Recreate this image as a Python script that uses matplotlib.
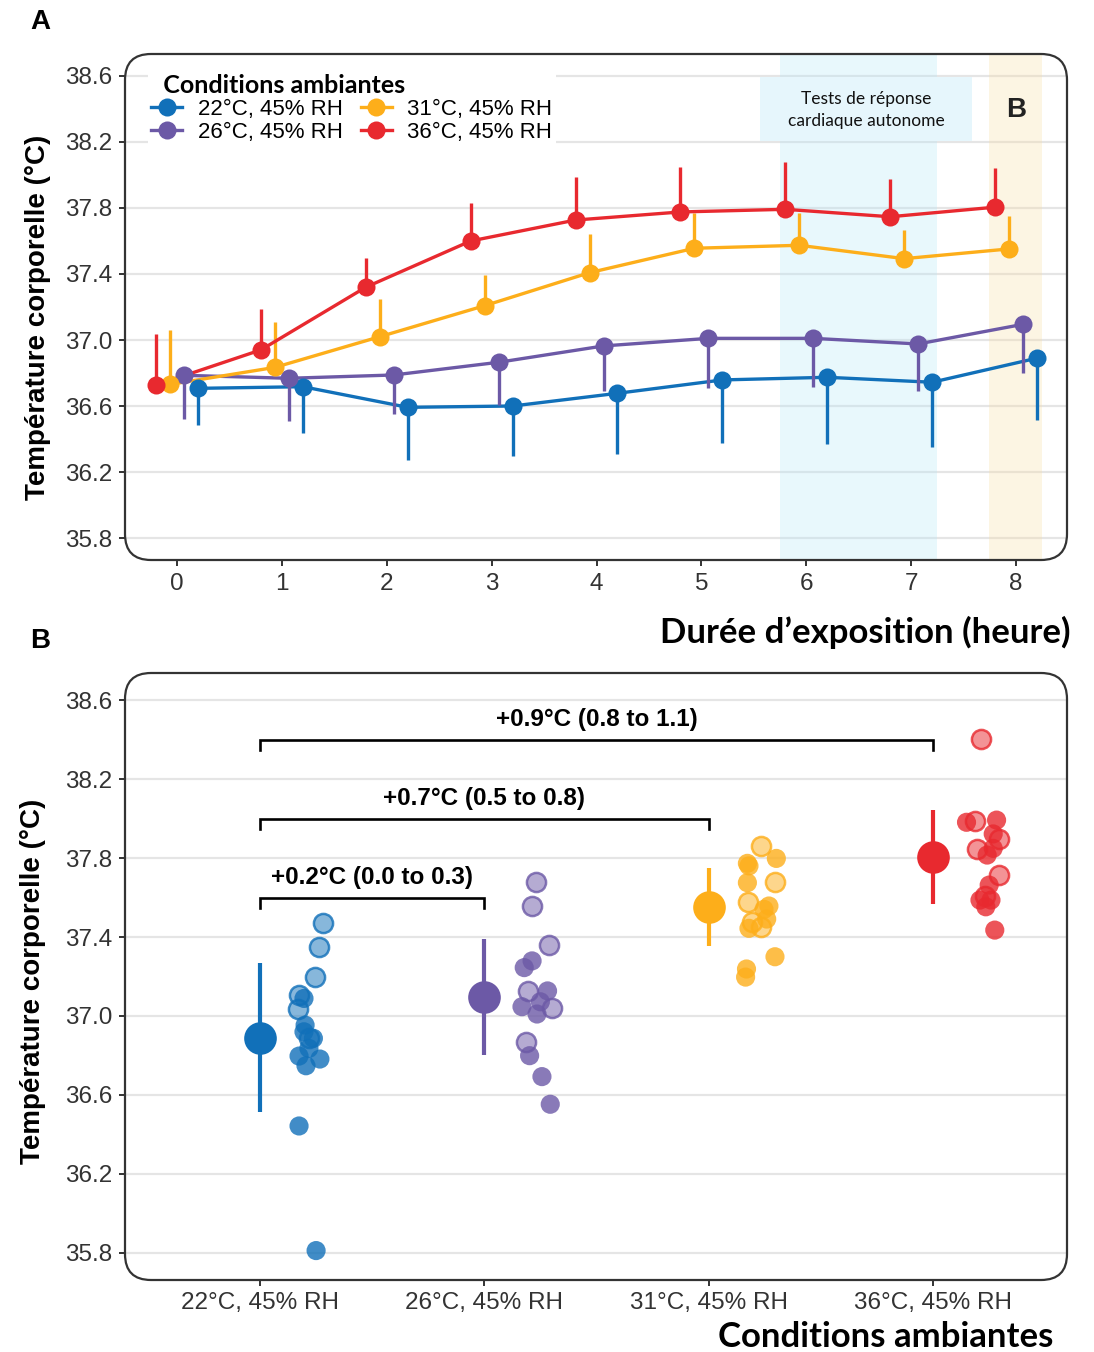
import matplotlib
matplotlib.use("Agg")
import matplotlib.pyplot as plt
import numpy as np
from matplotlib.patches import FancyBboxPatch, Rectangle
from matplotlib.lines import Line2D
from matplotlib.transforms import IdentityTransform

plt.rcParams['font.family'] = ['Liberation Sans', 'DejaVu Sans']
CAL = ['Lato', 'DejaVu Sans']

# ---------------- data ----------------
hours = [0, 1, 2, 3, 4, 5, 6, 7, 8]
conditions = ["22°C, 45% RH", "26°C, 45% RH", "31°C, 45% RH", "36°C, 45% RH"]
colors = ["#1170b9", "#6c59a6", "#fdae1a", "#e8292f"]

mean_22 = [36.707, 36.717, 36.592, 36.600, 36.677, 36.758, 36.774, 36.744, 36.890]
mean_26 = [36.786, 36.768, 36.788, 36.865, 36.964, 37.010, 37.010, 36.976, 37.095]
mean_31 = [36.731, 36.834, 37.020, 37.208, 37.408, 37.556, 37.574, 37.493, 37.552]
mean_36 = [36.727, 36.940, 37.320, 37.600, 37.727, 37.776, 37.792, 37.747, 37.805]

err_22 = [0.222, 0.283, 0.319, 0.303, 0.368, 0.384, 0.404, 0.390, 0.377]
err_26 = [0.266, 0.257, 0.238, 0.259, 0.271, 0.303, 0.293, 0.283, 0.295]
err_31 = [0.329, 0.276, 0.227, 0.186, 0.234, 0.212, 0.198, 0.174, 0.200]
err_36 = [0.309, 0.248, 0.177, 0.230, 0.263, 0.274, 0.288, 0.229, 0.238]

# individual participants at hour 8 (panel B)
pts_22 = [37.469, 37.348, 37.199, 37.106, 37.089, 37.035, 36.954, 36.920, 36.887, 36.887,
          36.836, 36.797, 36.782, 36.748, 36.443, 35.812]
jit_22 = [0.282, 0.262, 0.244, 0.175, 0.196, 0.171, 0.201, 0.196, 0.220, 0.238,
          0.218, 0.174, 0.267, 0.205, 0.174, 0.250]
ring_22 = [1, 1, 1, 1, 0, 1, 0, 0, 1, 0, 0, 0, 0, 0, 0, 0]

pts_26 = [37.677, 37.558, 37.360, 37.279, 37.245, 37.127, 37.127, 37.047, 37.039, 37.072,
          37.010, 36.867, 36.799, 36.693, 36.553]
jit_26 = [0.232, 0.211, 0.287, 0.213, 0.178, 0.195, 0.282, 0.168, 0.302, 0.250,
          0.235, 0.186, 0.202, 0.257, 0.294]
ring_26 = [1, 1, 1, 0, 0, 1, 0, 0, 1, 0, 0, 1, 0, 0, 0]

pts_31 = [37.862, 37.798, 37.773, 37.760, 37.675, 37.677, 37.579, 37.557, 37.540, 37.491,
          37.474, 37.444, 37.449, 37.300, 37.238, 37.197]
jit_31 = [0.233, 0.302, 0.173, 0.180, 0.173, 0.296, 0.177, 0.269, 0.247, 0.259,
          0.195, 0.180, 0.232, 0.296, 0.169, 0.165]
ring_31 = [1, 0, 0, 0, 0, 1, 1, 0, 0, 0, 1, 0, 1, 0, 0, 0]

pts_36 = [38.401, 37.981, 37.989, 37.992, 37.922, 37.896, 37.846, 37.815, 37.849, 37.714,
          37.663, 37.608, 37.587, 37.587, 37.553, 37.435]
jit_36 = [0.214, 0.150, 0.187, 0.284, 0.269, 0.296, 0.198, 0.242, 0.269, 0.296,
          0.251, 0.232, 0.210, 0.259, 0.236, 0.276]
ring_36 = [1, 0, 1, 0, 0, 1, 1, 0, 0, 1, 0, 1, 0, 0, 0, 0]

comparisons = [(1, 2, 37.60, "+0.2°C (0.0 to 0.3)"),
               (1, 3, 38.00, "+0.7°C (0.5 to 0.8)"),
               (1, 4, 38.40, "+0.9°C (0.8 to 1.1)")]

yticks = [35.8, 36.2, 36.6, 37.0, 37.4, 37.8, 38.2, 38.6]

means = [mean_22, mean_26, mean_31, mean_36]
errs = [err_22, err_26, err_31, err_36]
pts = [pts_22, pts_26, pts_31, pts_36]
jits = [jit_22, jit_26, jit_31, jit_36]
rings = [ring_22, ring_26, ring_31, ring_36]
err_side = ['lower', 'lower', 'upper', 'upper']
dodge = [0.2, 0.0667, -0.0667, -0.2]

W, H = 1094, 1352
fig = plt.figure(figsize=(W / 100, H / 100), dpi=100)


def px_axes(left, top, right, bottom):
    return fig.add_axes([left / W, 1 - bottom / H, (right - left) / W, (bottom - top) / H])


def style_axes(ax, left, top, right, bottom):
    for s in ax.spines.values():
        s.set_visible(False)
    ax.set_yticks(yticks)
    ax.set_yticklabels([f"{v:.1f}" for v in yticks])
    ax.yaxis.grid(True, color='#e5e5e5', lw=1.6, zorder=0)
    ax.xaxis.grid(False)
    ax.set_axisbelow(True)
    ax.tick_params(axis='both', length=4, width=1.4, color='#333333',
                   labelsize=17.5, labelcolor='#333333', pad=5)
    frame = FancyBboxPatch((left, H - bottom), right - left, bottom - top,
                           boxstyle="round,pad=0,rounding_size=26",
                           transform=IdentityTransform(), fill=False,
                           edgecolor='#333333', lw=1.6, zorder=10)
    fig.add_artist(frame)
    clip = FancyBboxPatch((left, H - bottom), right - left, bottom - top,
                          boxstyle="round,pad=0,rounding_size=26",
                          transform=IdentityTransform(), fill=False, visible=False)
    fig.add_artist(clip)
    for gl in ax.get_ygridlines():
        gl.set_clip_path(clip)


# ---------------- Panel A ----------------
axA = px_axes(125, 54, 1067, 560)
axA.set_xlim(-0.496, 8.486)
axA.set_ylim(35.6667, 38.7333)
style_axes(axA, 125, 54, 1067, 560)
axA.set_xticks(hours)

axA.add_patch(Rectangle((5.75, 35.0), 1.5, 5, facecolor='#b6e8f8', alpha=0.3,
                        edgecolor='none', zorder=1))
axA.add_patch(Rectangle((7.74, 35.0), 0.51, 5, facecolor='#f8dea5', alpha=0.3,
                        edgecolor='none', zorder=1))

for i in range(4):
    x = np.array(hours) + dodge[i]
    m = np.array(means[i])
    e = np.array(errs[i])
    axA.plot(x, m, color=colors[i], lw=2.4, zorder=3)
    if err_side[i] == 'upper':
        axA.vlines(x, m, m + e, color=colors[i], lw=2.4, zorder=3)
    else:
        axA.vlines(x, m - e, m, color=colors[i], lw=2.4, zorder=3)
for i in range(4):
    x = np.array(hours) + dodge[i]
    axA.plot(x, means[i], 'o', color=colors[i], ms=13, mec='none', zorder=4)

axA.add_patch(Rectangle((5.559, 38.206), 2.021, 0.388, facecolor='#e6f6fc',
                        edgecolor='none', zorder=5))
axA.text(6.57, 38.394, "Tests de réponse\ncardiaque autonome", ha='center', va='center',
         fontsize=12.5, family=CAL, color='#111111', linespacing=1.45, zorder=6)
axA.text(8.0, 38.394, "B", ha='center', va='center', fontsize=20, fontweight='bold',
         color='#222222', zorder=6)

handles = [Line2D([0], [0], color=c, lw=2.4, marker='o', ms=13, mec='none') for c in colors]
leg = axA.legend(handles, conditions, ncol=2, loc='upper left',
                 bbox_to_anchor=(0.0244, 0.9664), frameon=True, fancybox=False,
                 facecolor='white', edgecolor='none', framealpha=1,
                 fontsize=16, handlelength=1.4, handletextpad=0.7, columnspacing=0.8,
                 labelspacing=0.08, borderpad=0.15, borderaxespad=0,
                 title="  Conditions ambiantes", alignment='left',
                 title_fontproperties={'family': CAL, 'weight': 'bold', 'size': 18})
leg.set_zorder(7)

# ---------------- Panel B ----------------
axB = px_axes(125, 673, 1067, 1280)
axB.set_xlim(0.398, 4.598)
axB.set_ylim(35.663, 38.737)
style_axes(axB, 125, 673, 1067, 1280)
axB.set_xticks([1, 2, 3, 4])
axB.set_xticklabels(conditions)

for i in range(4):
    c = colors[i]
    xs = (i + 1) + np.array(jits[i])
    ys = np.array(pts[i])
    rg = np.array(rings[i]) == 1
    axB.scatter(xs[~rg], ys[~rg], s=190, facecolor=c, alpha=0.8, edgecolor='none', zorder=3)
    axB.scatter(xs[rg], ys[rg], s=190, facecolor=matplotlib.colors.to_rgba(c, 0.5),
                edgecolor=matplotlib.colors.to_rgba(c, 0.8), lw=1.8, zorder=3)
    m = means[i][-1]
    e = errs[i][-1]
    axB.vlines(i + 1, m - e, m + e, color=c, lw=3.0, zorder=4)
    axB.plot(i + 1, m, 'o', color=c, ms=23.5, mec='none', zorder=5)

for a, b, y, lab in comparisons:
    axB.plot([a, a, b, b], [y - 0.055, y, y, y - 0.055], color='black', lw=1.9,
             solid_joinstyle='miter', zorder=4)
    axB.text((a + b) / 2, y + 0.1, lab, ha='center', va='center', fontsize=17.5,
             fontweight='bold', color='black')

# ---------------- labels ----------------
fig.text(40 / W, 1 - 22 / H, "A", ha='center', va='center', fontsize=20, fontweight='bold')
fig.text(40 / W, 1 - 641 / H, "B", ha='center', va='center', fontsize=20, fontweight='bold')
fig.text(38 / W, 1 - 317 / H, "Température corporelle (°C)", rotation=90, ha='center',
         va='center', fontsize=20, fontweight='bold')
fig.text(33 / W, 1 - 981 / H, "Température corporelle (°C)", rotation=90, ha='center',
         va='center', fontsize=20, fontweight='bold')
fig.text(1070 / W, 1 - 632 / H, "Durée d’exposition (heure)", ha='right', va='center',
         fontsize=25, fontweight='bold', family=CAL)
fig.text(1053 / W, 1 - 1337 / H, "Conditions ambiantes", ha='right', va='center',
         fontsize=25, fontweight='bold', family=CAL)

fig.savefig("out.png", dpi=100)
